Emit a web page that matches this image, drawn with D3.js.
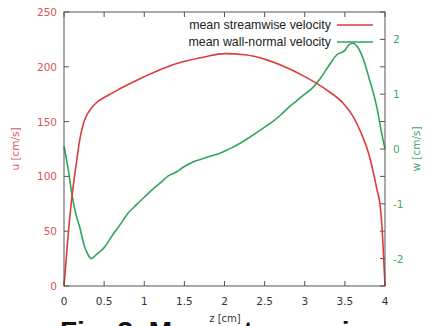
<!DOCTYPE html>
<html lang="en">
<head>
  <meta charset="UTF-8">
  <title>Mean velocity profiles</title>
  <script src="https://d3js.org/d3.v7.min.js"></script>
  <style>
    body { margin: 0; background: #fff; }
    svg { display: block; }
    .tick-lbl { font-family: "DejaVu Sans", sans-serif; font-size: 10.5px; }
    .legend text { font-family: "Liberation Sans", Arial, sans-serif; font-size: 12.4px; fill: #222; }
  </style>
</head>
<body>
  <svg id="chart" width="426" height="326"></svg>
  <script>
    // data
    const zVals = [0, 0.05, 0.1, 0.15, 0.2, 0.25, 0.3, 0.35, 0.4, 0.5, 0.6, 0.75, 1.0, 1.25, 1.5, 1.75, 2.0, 2.25, 2.5, 2.75, 3.0, 3.25, 3.5, 3.6, 3.7, 3.8, 3.85, 3.9, 3.94, 3.97, 4.0];
    const uVals = [0, 45, 82, 110, 135, 150, 158, 163, 167, 172, 176, 182, 191, 199, 205, 209, 212, 211, 207, 200, 191, 180, 165, 155, 140, 120, 105, 88, 73, 45, 0];

    const zW = [0, 0.05, 0.1, 0.15, 0.2, 0.25, 0.3, 0.34, 0.4, 0.45, 0.5, 0.6, 0.7, 0.8, 0.9, 1.0, 1.1, 1.2, 1.3, 1.4, 1.5, 1.6, 1.7, 1.8, 1.9, 2.0, 2.1, 2.2, 2.3, 2.4, 2.5, 2.6, 2.7, 2.8, 2.9, 3.0, 3.1, 3.2, 3.3, 3.4, 3.5, 3.55, 3.6, 3.65, 3.7, 3.75, 3.8, 3.85, 3.9, 3.95, 4.0];
    const wVals = [0.05, -0.35, -0.84, -1.2, -1.45, -1.75, -1.93, -2.0, -1.93, -1.87, -1.8, -1.58, -1.38, -1.17, -1.02, -0.88, -0.74, -0.62, -0.49, -0.42, -0.32, -0.24, -0.19, -0.14, -0.1, -0.04, 0.03, 0.11, 0.2, 0.3, 0.4, 0.5, 0.62, 0.76, 0.88, 1.0, 1.12, 1.3, 1.52, 1.72, 1.8, 1.9, 1.93, 1.88, 1.75, 1.55, 1.3, 1.05, 0.75, 0.35, 0.0];

    const xTicks = [0, 0.5, 1, 1.5, 2, 2.5, 3, 3.5, 4];
    const uTicks = [0, 50, 100, 150, 200, 250];
    const wTicks = [-2.5, -2, -1.5, -1, -0.5, 0, 0.5, 1, 1.5, 2, 2.5];
    const wLabels = [-2, -1, 0, 1, 2];
    const seriesNames = ["mean streamwise velocity", "mean wall-normal velocity"];

    const RED = "#dc3c3c", GREEN = "#2fa55c", RED_TXT = "#d9545a", GREEN_TXT = "#43a867", AX = "#555";

    const svg = d3.select("#chart");
    const L = 64, R = 385, T = 12, B = 286;

    const x = d3.scaleLinear().domain([0, 4]).range([L, R]);
    const yU = d3.scaleLinear().domain([0, 250]).range([B, T]);
    const yW = d3.scaleLinear().domain([-2.5, 2.5]).range([B, T]);

    // ticks (inward)
    const tk = svg.append("g").attr("stroke", AX).attr("stroke-width", 1);
    xTicks.forEach(v => {
      tk.append("line").attr("x1", x(v)).attr("x2", x(v)).attr("y1", B).attr("y2", B - 5);
      tk.append("line").attr("x1", x(v)).attr("x2", x(v)).attr("y1", T).attr("y2", T + 5);
    });
    uTicks.forEach(v => {
      tk.append("line").attr("x1", L).attr("x2", L + 5).attr("y1", yU(v)).attr("y2", yU(v));
    });
    wTicks.forEach(v => {
      tk.append("line").attr("x1", R).attr("x2", R - 5).attr("y1", yW(v)).attr("y2", yW(v));
    });

    // tick labels
    svg.append("g").selectAll("text").data(xTicks).join("text")
      .attr("class", "tick-lbl")
      .attr("x", d => x(d)).attr("y", 305)
      .attr("text-anchor", "middle").attr("fill", "#333")
      .text(d => d);
    svg.append("g").selectAll("text").data(uTicks).join("text")
      .attr("class", "tick-lbl")
      .attr("x", 57).attr("y", d => yU(d) + 4)
      .attr("text-anchor", "end").attr("fill", RED_TXT)
      .text(d => d);
    svg.append("g").selectAll("text").data(wLabels).join("text")
      .attr("class", "tick-lbl")
      .attr("x", 393).attr("y", d => yW(d) + 4)
      .attr("text-anchor", "start").attr("fill", GREEN_TXT)
      .text(d => d);

    // axis titles
    svg.append("text").attr("class", "tick-lbl")
      .attr("transform", "translate(19," + ((T + B) / 2) + ") rotate(-90)")
      .attr("text-anchor", "middle").attr("fill", RED_TXT).text("u [cm/s]");
    svg.append("text").attr("class", "tick-lbl")
      .attr("transform", "translate(420," + ((T + B) / 2) + ") rotate(-90)")
      .attr("text-anchor", "middle").attr("fill", GREEN_TXT).text("w [cm/s]");
    svg.append("text").attr("class", "tick-lbl")
      .attr("x", 225).attr("y", 322).attr("text-anchor", "middle")
      .attr("fill", "#333").style("font-size", "10px").text("z [cm]");

    // curves
    const lineU = d3.line().x((d, i) => x(zVals[i])).y(d => yU(d)).curve(d3.curveMonotoneX);
    const lineW = d3.line().x((d, i) => x(zW[i])).y(d => yW(d)).curve(d3.curveMonotoneX);

    svg.append("path").attr("d", lineW(wVals))
      .attr("fill", "none").attr("stroke", GREEN).attr("stroke-width", 1.6);
    svg.append("path").attr("d", lineU(uVals))
      .attr("fill", "none").attr("stroke", RED).attr("stroke-width", 1.6);

    // frame
    svg.append("rect").attr("x", L).attr("y", T).attr("width", R - L).attr("height", B - T)
      .attr("fill", "none").attr("stroke", AX).attr("stroke-width", 1);

    // legend
    const lg = svg.append("g").attr("class", "legend");
    [RED, GREEN].forEach((c, i) => {
      const yy = 25 + i * 17;
      lg.append("text").attr("x", 331).attr("y", yy + 4).attr("text-anchor", "end").text(seriesNames[i]);
      lg.append("line").attr("x1", 337).attr("x2", 373).attr("y1", yy).attr("y2", yy)
        .attr("stroke", c).attr("stroke-width", 1.6);
    });

    // caption (cut off at bottom of the picture)
    svg.append("text")
      .attr("x", 60).attr("y", 341)
      .style("font-family", "'Liberation Sans', Arial, sans-serif")
      .style("font-size", "28px").style("font-weight", "bold")
      .attr("fill", "#111")
      .text("Fig. 3. Mean streamwise and wall-normal velocity");
  </script>
</body>
</html>
